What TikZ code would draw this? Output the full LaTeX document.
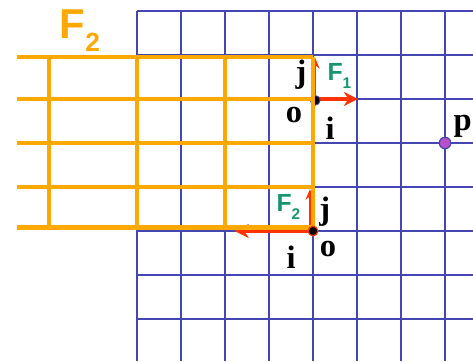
\documentclass[tikz,border=0pt]{standalone}
\usepackage{fontspec}
\setmainfont{Liberation Serif}
\setsansfont{Liberation Sans}
\usepackage{tikz}
\usetikzlibrary{positioning,arrows.meta}
\definecolor{gridblue}{RGB}{70,70,178}
\definecolor{frameorange}{RGB}{255,168,0}
\definecolor{vecred}{RGB}{255,50,0}
\definecolor{framegreen}{RGB}{22,150,112}
\definecolor{ptpurple}{RGB}{185,80,200}
\tikzset{
  bluegrid/.style={gridblue, line width=1.4pt},
  orangeline/.style={frameorange, line width=2.7pt},
  vecthick/.style={vecred, line width=2.4pt, -{Stealth[length=3.2mm, width=3.2mm]}},
  vecthin/.style={vecred, line width=1pt, -{Stealth[length=2.4mm, width=2mm]}},
  veclabel/.style={font=\bfseries\fontsize{21}{21}\selectfont, inner sep=0pt},
  framelabel/.style={font=\sffamily\bfseries\fontsize{16}{16}\selectfont, text=framegreen, inner sep=0pt},
  bigframe/.style={font=\sffamily\bfseries\fontsize{27}{27}\selectfont, text=frameorange, inner sep=0pt},
  origindot/.style={circle, fill=black, inner sep=0pt, minimum size=2.2mm},
}
\begin{document}
\begin{tikzpicture}[x=1cm, y=1cm]
  \useasboundingbox (-7.114,-5.955) rectangle (3.636,2.25);
  % world grid
  \draw[bluegrid] (-4,-5.955) grid (3.636,2);
  % frame points
  \coordinate (o1) at (0.05,-0.03);
  \coordinate (i1b) at (0.05,0);
  \coordinate (i1) at (1.02,0);
  \coordinate (j1b) at (0.05,0);
  \coordinate (j1) at (0.05,0.93);
  \coordinate (o2) at (0,-3);
  \coordinate (i2) at (-1.78,-3);
  \coordinate (j2b) at (-0.07,-3);
  \coordinate (j2) at (-0.07,-2.05);
  % basis vectors
  \draw[vecthick] (i1b) -- (i1);
  \draw[vecthin] (j1b) -- (j1);
  \draw[vecthick] (o2) -- (i2);
  \draw[vecthin] (j2b) -- (j2);
  \node[origindot, draw=gridblue, line width=0.6pt] (dot1) at (o1) {};
  % frame F2 grid
  \foreach \y in {0.96,0,-1,-2,-2.92}
    \draw[orangeline] (-6.73,\y) -- (0,\y);
  \foreach \x in {0,-2,-4,-6}
    \draw[orangeline] (\x,0.96) -- (\x,-2.92);
  % origin of F2 and point
  \node[origindot, draw=vecred, line width=0.8pt] (dot2) at (o2) {};
  \node[circle, fill=ptpurple, draw=gridblue, line width=0.8pt, inner sep=0pt, minimum size=2.6mm] (pt) at (3,-1) {};
  % labels
  \node[bigframe] (ftwo) at (-5.3,1.55) {F\raisebox{-.32em}{\fontsize{17}{17}\selectfont 2}};
  \node[framelabel] (fone) at (0.6,0.52) {F\raisebox{-.3em}{\fontsize{10}{10}\selectfont 1}};
  \node[framelabel] (ftwob) at (-0.56,-2.45) {F\raisebox{-.3em}{\fontsize{10}{10}\selectfont 2}};
  \node[veclabel] (jone) at (-0.27,0.55) {j};
  \node[veclabel] (oone) at (-0.43,-0.36) {o};
  \node[veclabel] (ione) at (0.39,-0.66) {i};
  \node[veclabel] (plab) at (3.4,-0.62) {p};
  \node[veclabel] (jtwo) at (0.27,-2.57) {j};
  \node[veclabel] (itwo) at (-0.5,-3.59) {i};
  \node[veclabel] (otwo) at (0.34,-3.41) {o};
\end{tikzpicture}
\end{document}
